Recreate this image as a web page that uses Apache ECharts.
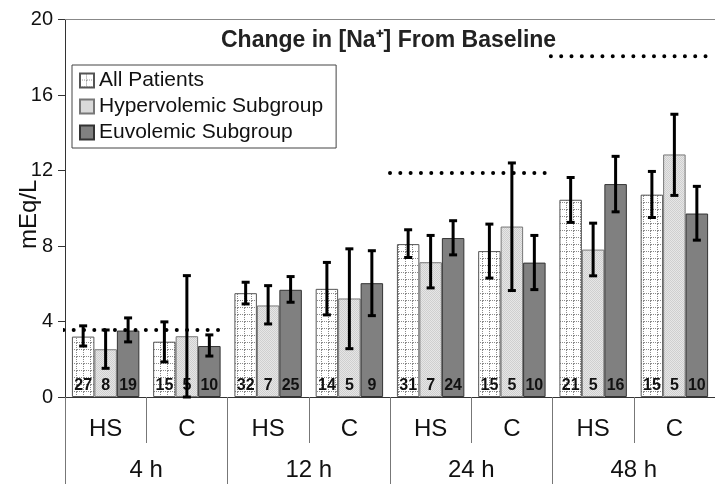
<!DOCTYPE html>
<html>
<head>
<meta charset="utf-8">
<script src="https://cdn.jsdelivr.net/npm/echarts@6/dist/echarts.min.js"></script>
<style>
  html, body { margin: 0; padding: 0; background: #fff; }
  #chart { width: 715px; height: 484px; }
</style>
</head>
<body>
<div id="chart"></div>
<script>
const FONT = '"Liberation Sans", Arial, sans-serif';

const categories = ['HS', 'C', 'HS', 'C', 'HS', 'C', 'HS', 'C'];
const timeLabels = ['4 h', '12 h', '24 h', '48 h'];
const seriesNames = ['All Patients', 'Hypervolemic Subgroup', 'Euvolemic Subgroup'];

const allMean = [3.2, 2.93, 5.5, 5.73, 8.1, 7.73, 10.45, 10.72];
const allLow = [2.7, 1.86, 4.93, 4.35, 7.39, 6.3, 9.25, 9.51];
const allHigh = [3.77, 3.98, 6.08, 7.13, 8.86, 9.16, 11.63, 11.95];
const allN = [27, 15, 32, 14, 31, 15, 21, 15];

const hyperMean = [2.53, 3.22, 4.85, 5.22, 7.14, 9.03, 7.81, 12.85];
const hyperLow = [1.52, 0.0, 3.87, 2.56, 5.78, 5.64, 6.42, 10.68];
const hyperHigh = [3.55, 6.43, 5.9, 7.85, 8.56, 12.4, 9.21, 14.98];
const hyperN = [8, 5, 7, 5, 7, 5, 5, 5];

const euvoMean = [3.52, 2.7, 5.68, 6.03, 8.42, 7.12, 11.28, 9.72];
const euvoLow = [2.92, 2.17, 5.02, 4.31, 7.53, 5.69, 9.81, 8.31];
const euvoHigh = [4.19, 3.29, 6.38, 7.75, 9.34, 8.56, 12.75, 11.16];
const euvoN = [19, 10, 25, 9, 24, 10, 16, 10];

// dotted reference lines: value and span in category units
const refValues = [3.55, 11.87, 18.05];
const refFrom = [-0.02, 4, 5.98];
const refTo = [1.98, 5.94, 7.9];

const BAR_GAP = 0.17;

function gridPattern() {
  const c = document.createElement('canvas');
  c.width = 7; c.height = 7;
  const g = c.getContext('2d');
  g.fillStyle = '#fff';
  g.fillRect(0, 0, 7, 7);
  g.fillStyle = '#8a8a8a';
  for (let i = 0; i < 7; i += 2) {
    g.fillRect(i, 6, 1, 1);
    g.fillRect(6, i, 1, 1);
  }
  return c;
}

function stipplePattern() {
  const c = document.createElement('canvas');
  c.width = 2; c.height = 2;
  const g = c.getContext('2d');
  g.fillStyle = '#e6e6e6';
  g.fillRect(0, 0, 2, 2);
  g.fillStyle = '#cfcfcf';
  g.fillRect(0, 0, 1, 1);
  g.fillRect(1, 1, 1, 1);
  return c;
}

const barStyles = [
  { color: { image: gridPattern(), repeat: 'repeat' }, borderColor: '#555', borderWidth: 1 },
  { color: { image: stipplePattern(), repeat: 'repeat' }, borderColor: '#777', borderWidth: 1 },
  { color: '#808080', borderColor: '#333', borderWidth: 1 }
];

function barSeries(k, values, counts) {
  return {
    name: seriesNames[k],
    type: 'bar',
    xAxisIndex: 0,
    data: values,
    barGap: '0%',
    barCategoryGap: (BAR_GAP * 100) + '%',
    itemStyle: barStyles[k],
    label: {
      show: true,
      position: 'insideBottom',
      distance: 3,
      formatter: (p) => counts[p.dataIndex],
      fontFamily: FONT,
      fontWeight: 'bold',
      fontSize: 16,
      color: '#111'
    }
  };
}

function errorSeries(k, low, high) {
  return {
    type: 'custom',
    xAxisIndex: 0,
    z: 5,
    data: low.map((v, i) => [i, v, high[i]]),
    renderItem: (params, api) => {
      const i = api.value(0);
      const lo = api.coord([i, api.value(1)]);
      const hi = api.coord([i, api.value(2)]);
      const band = api.size([1, 0])[0];
      const bw = band * (1 - BAR_GAP) / 3;
      const x = lo[0] + (k - 1) * bw;
      const cap = 4;
      const style = { stroke: '#000', lineWidth: 3 };
      return {
        type: 'group',
        children: [
          { type: 'line', shape: { x1: x, y1: lo[1], x2: x, y2: hi[1] }, style },
          { type: 'line', shape: { x1: x - cap, y1: lo[1], x2: x + cap, y2: lo[1] }, style },
          { type: 'line', shape: { x1: x - cap, y1: hi[1], x2: x + cap, y2: hi[1] }, style }
        ]
      };
    }
  };
}

const refSeries = refValues.map((v, i) => ({
  type: 'line',
  xAxisIndex: 2,
  symbol: 'none',
  silent: true,
  clip: false,
  z: 4,
  data: [[refFrom[i], v], [refTo[i], v]],
  lineStyle: { color: '#000', width: 4, type: [0.01, 10.3], cap: 'round' }
}));

const chart = echarts.init(document.getElementById('chart'));
chart.setOption({
  animation: false,
  textStyle: { fontFamily: FONT },
  title: {
    text: 'Change in [Na\u207A] From Baseline',
    left: 216,
    top: 24,
    textStyle: { fontFamily: FONT, fontSize: 23, fontWeight: 'bold', color: '#222' }
  },
  legend: {
    orient: 'vertical',
    left: 72,
    top: 65,
    data: seriesNames,
    padding: [5, 13, 5, 7],
    itemGap: 5,
    itemWidth: 14,
    itemHeight: 14,
    icon: 'rect',
    borderColor: '#444',
    borderWidth: 1,
    backgroundColor: '#fff',
    textStyle: { fontFamily: FONT, fontSize: 21, color: '#111' }
  },
  grid: { left: 65, right: 0, top: 19.5, bottom: 87, outerBoundsMode: 'none', containLabel: false },
  xAxis: [
    {
      type: 'category',
      data: categories,
      position: 'bottom',
      axisLine: { lineStyle: { color: '#333', width: 1 } },
      axisTick: { show: true, interval: 0, length: 46, lineStyle: { color: '#777' } },
      axisLabel: { interval: 0, fontFamily: FONT, fontSize: 24, margin: 20, color: '#111' }
    },
    {
      type: 'category',
      data: timeLabels,
      position: 'bottom',
      axisLine: { show: false },
      axisTick: { show: true, interval: 0, length: 87, lineStyle: { color: '#777' } },
      axisLabel: { interval: 0, fontFamily: FONT, fontSize: 24, margin: 61, color: '#111' }
    },
    {
      type: 'value',
      position: 'top',
      min: 0,
      max: 8,
      axisLine: { show: true, lineStyle: { color: '#888' } },
      axisTick: { show: false },
      axisLabel: { show: false },
      splitLine: { show: false }
    }
  ],
  yAxis: {
    type: 'value',
    min: 0,
    max: 20,
    interval: 4,
    name: 'mEq/L',
    nameLocation: 'middle',
    nameGap: 24,
    nameMoveOverlap: false,
    nameTextStyle: { fontFamily: FONT, fontSize: 24, color: '#111', padding: [0, 12, 0, 0] },
    axisLine: { show: true, lineStyle: { color: '#333' } },
    axisTick: { show: true, length: 7, lineStyle: { color: '#333' } },
    axisLabel: { fontFamily: FONT, fontSize: 20, margin: 12, color: '#111' },
    splitLine: { show: false }
  },
  series: [
    barSeries(0, allMean, allN),
    barSeries(1, hyperMean, hyperN),
    barSeries(2, euvoMean, euvoN),
    errorSeries(0, allLow, allHigh),
    errorSeries(1, hyperLow, hyperHigh),
    errorSeries(2, euvoLow, euvoHigh),
    ...refSeries
  ]
});
</script>
</body>
</html>
